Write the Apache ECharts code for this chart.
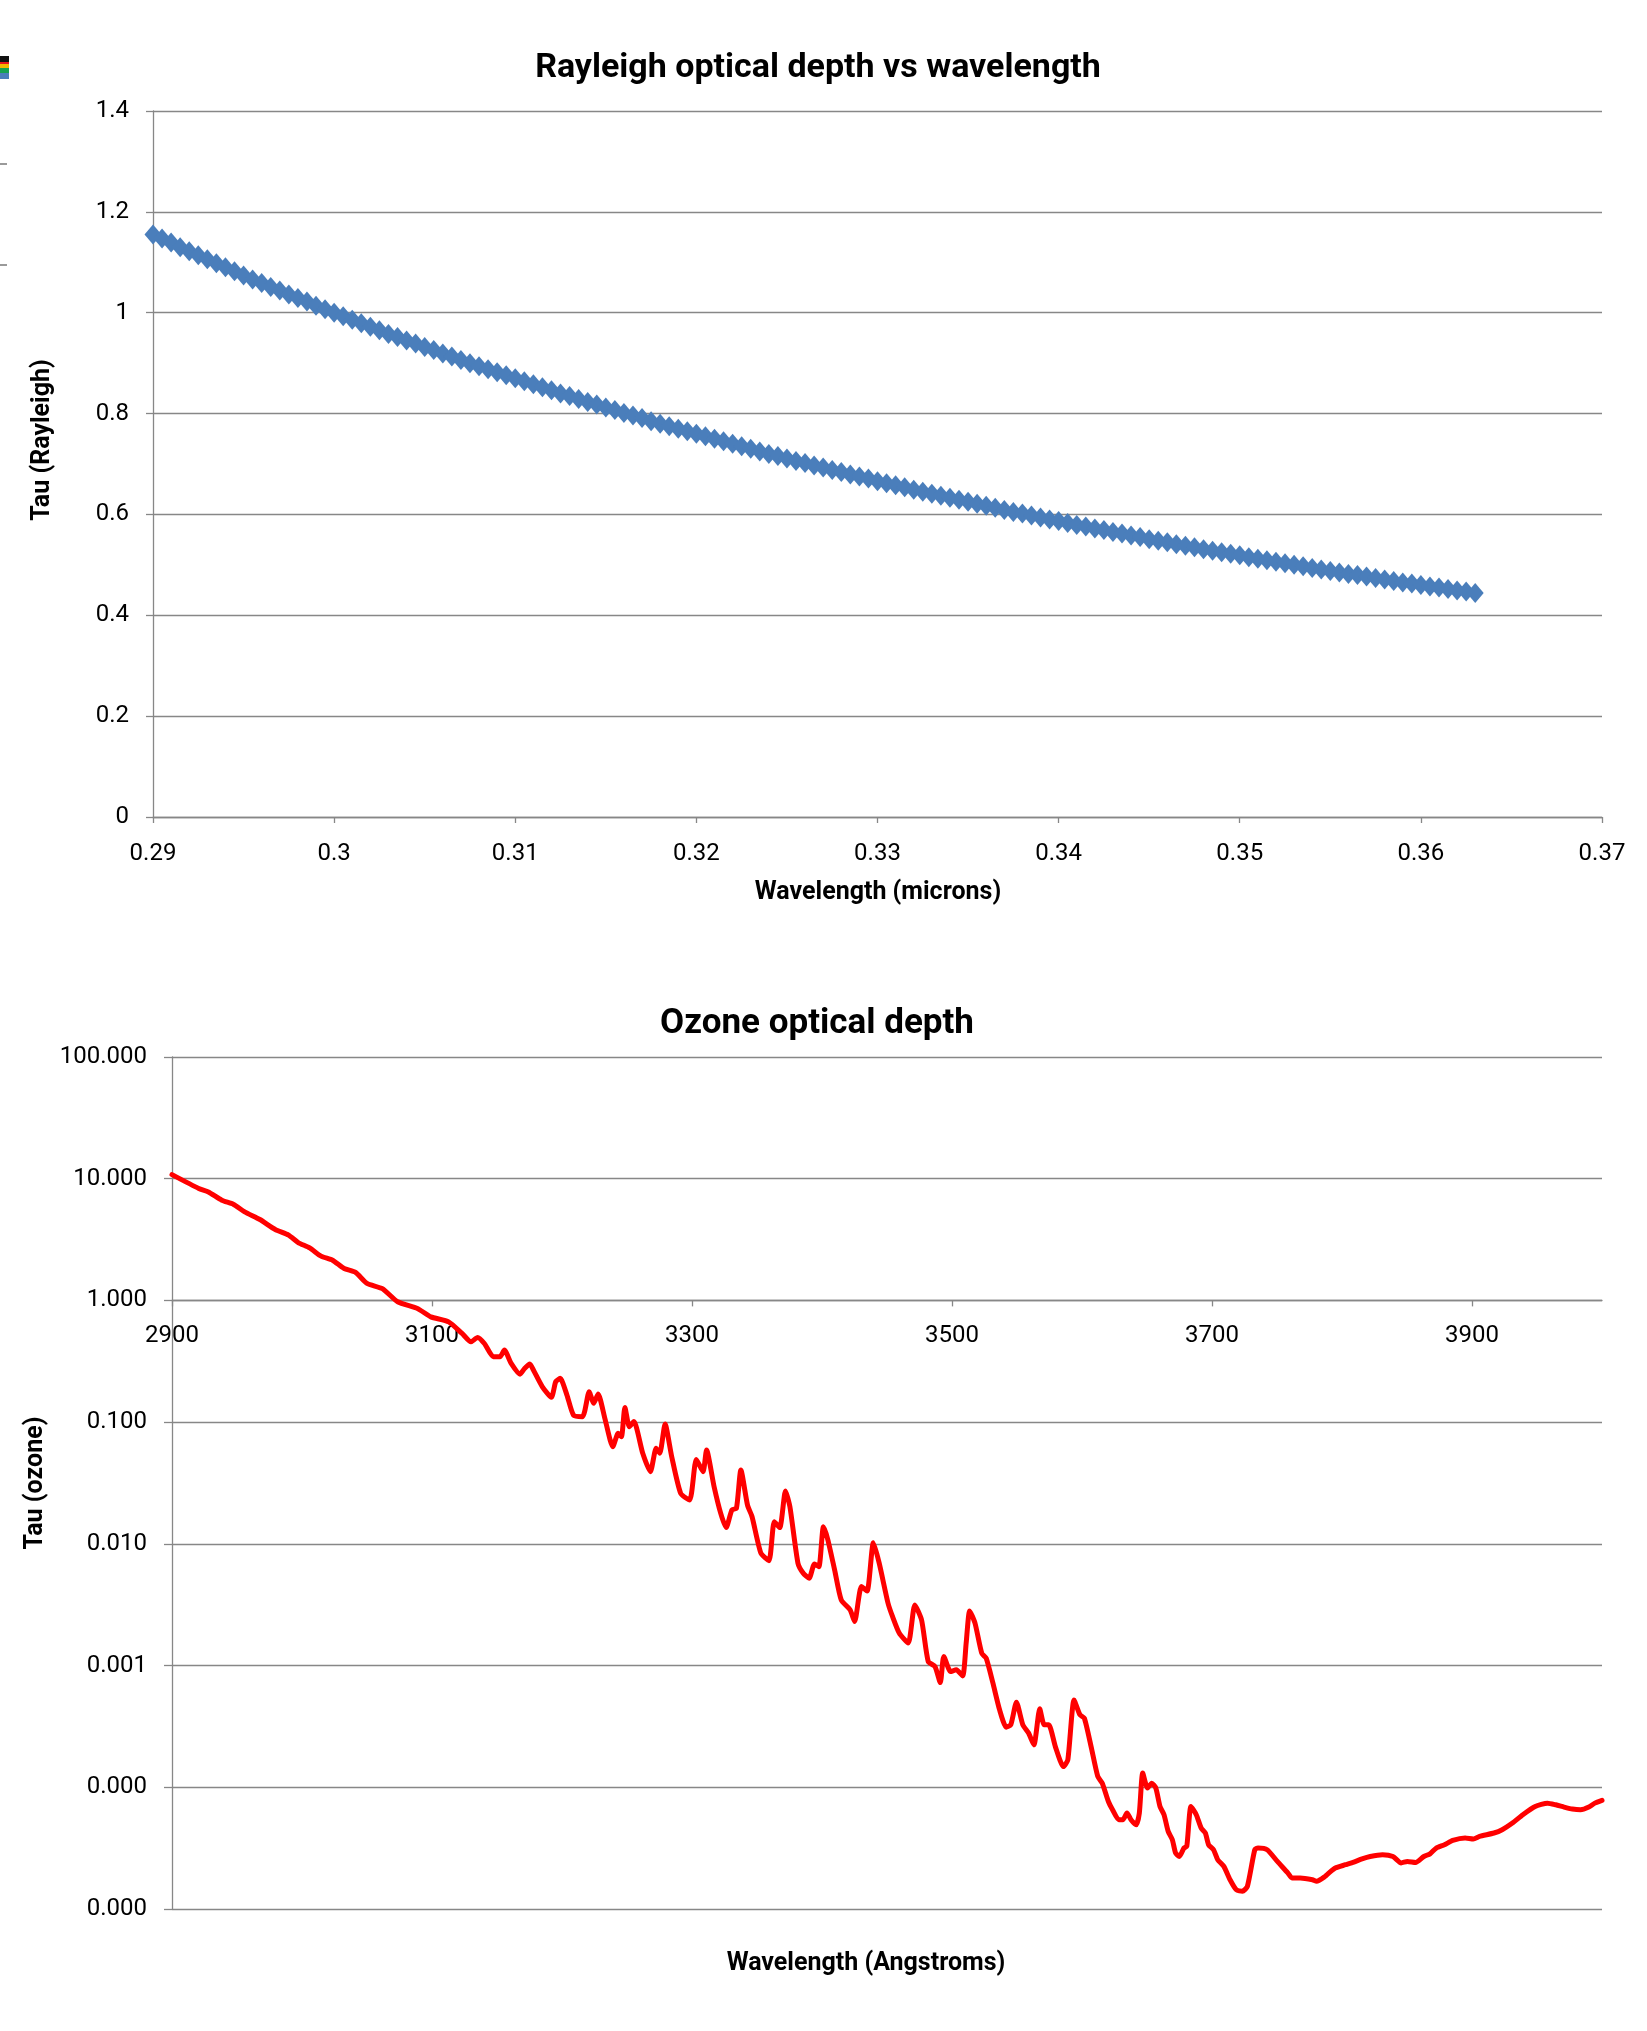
<!DOCTYPE html>
<html><head><meta charset="utf-8">
<script src="https://cdn.jsdelivr.net/npm/echarts@6/dist/echarts.min.js"></script>
<style>html,body{margin:0;padding:0;background:#fff}#c{width:1647px;height:2031px}</style>
</head><body><div id="c"></div><script>
// ---------- Rayleigh optical depth (microns) ----------
const rayWavelength = [
0.2900,0.2905,0.2910,0.2915,0.2920,0.2925,0.2930,0.2935,0.2940,0.2945,
0.2950,0.2955,0.2960,0.2965,0.2970,0.2975,0.2980,0.2985,0.2990,0.2995,
0.3000,0.3005,0.3010,0.3015,0.3020,0.3025,0.3030,0.3035,0.3040,0.3045,
0.3050,0.3055,0.3060,0.3065,0.3070,0.3075,0.3080,0.3085,0.3090,0.3095,
0.3100,0.3105,0.3110,0.3115,0.3120,0.3125,0.3130,0.3135,0.3140,0.3145,
0.3150,0.3155,0.3160,0.3165,0.3170,0.3175,0.3180,0.3185,0.3190,0.3195,
0.3200,0.3205,0.3210,0.3215,0.3220,0.3225,0.3230,0.3235,0.3240,0.3245,
0.3250,0.3255,0.3260,0.3265,0.3270,0.3275,0.3280,0.3285,0.3290,0.3295,
0.3300,0.3305,0.3310,0.3315,0.3320,0.3325,0.3330,0.3335,0.3340,0.3345,
0.3350,0.3355,0.3360,0.3365,0.3370,0.3375,0.3380,0.3385,0.3390,0.3395,
0.3400,0.3405,0.3410,0.3415,0.3420,0.3425,0.3430,0.3435,0.3440,0.3445,
0.3450,0.3455,0.3460,0.3465,0.3470,0.3475,0.3480,0.3485,0.3490,0.3495,
0.3500,0.3505,0.3510,0.3515,0.3520,0.3525,0.3530,0.3535,0.3540,0.3545,
0.3550,0.3555,0.3560,0.3565,0.3570,0.3575,0.3580,0.3585,0.3590,0.3595,
0.3600,0.3605,0.3610,0.3615,0.3620,0.3625,0.3630];
const rayTau = [
1.155,1.147,1.139,1.130,1.122,1.114,1.106,1.098,1.090,1.082,
1.074,1.066,1.059,1.051,1.044,1.036,1.029,1.022,1.014,1.007,
1.000,0.993,0.986,0.979,0.972,0.965,0.958,0.952,0.945,0.939,
0.932,0.926,0.919,0.913,0.906,0.900,0.894,0.888,0.882,0.876,
0.870,0.864,0.858,0.852,0.846,0.840,0.835,0.829,0.823,0.818,
0.812,0.807,0.801,0.796,0.791,0.785,0.780,0.775,0.770,0.765,
0.760,0.755,0.750,0.745,0.740,0.735,0.730,0.725,0.720,0.716,
0.711,0.706,0.702,0.697,0.693,0.688,0.684,0.679,0.675,0.671,
0.666,0.662,0.658,0.654,0.649,0.645,0.641,0.637,0.633,0.629,
0.625,0.621,0.617,0.613,0.609,0.605,0.602,0.598,0.594,0.590,
0.587,0.583,0.579,0.576,0.572,0.569,0.565,0.562,0.558,0.555,
0.551,0.548,0.545,0.541,0.538,0.535,0.531,0.528,0.525,0.522,
0.519,0.515,0.512,0.509,0.506,0.503,0.500,0.497,0.494,0.491,
0.488,0.485,0.482,0.480,0.477,0.474,0.471,0.468,0.465,0.463,
0.460,0.457,0.455,0.452,0.449,0.447,0.444];

// ---------- Ozone optical depth (Angstroms) ----------
const ozoneWavelength = [
2900,2920.6,2928,2938.3,2947.1,2955.9,2967.6,2979.4,2989.7,2997.1,
3005.9,3014.7,3023.5,3032.4,3041.2,3050,3061.8,3073.6,3088.8,3099.1,
3112.8,3123.1,3130,3135.1,3140.3,3147.2,3152.3,3155.7,3160.9,3167.7,
3171.2,3175.3,3178,3184.9,3191.8,3195.2,3198.6,3203.8,3208.9,3215.8,
3220.9,3224.4,3227.8,3233,3239.1,3243.2,3245.7,3248.4,3251.8,3255.3,
3262.1,3268,3272.4,3275.2,3279.3,3284.4,3291.3,3298.2,3303.3,3308.5,
3311.2,3317,3322.1,3326.3,3330.7,3334.2,3337.6,3342.7,3346.2,3353,
3359.2,3363.3,3367.5,3371.9,3375.3,3381.5,3385.6,3390.1,3394.2,3397.6,
3401.1,3404.5,3409.7,3414.8,3421.7,3425.1,3430.3,3434.7,3439.5,3444,
3450.8,3454.3,3459.4,3466.3,3471.4,3476.6,3481.7,3486.9,3491,3493.7,
3498.9,3503.3,3508.2,3510.9,3513.6,3517.7,3522.9,3526.3,3531.5,3536.6,
3541.7,3545.2,3549.6,3554.5,3558.9,3563,3567.5,3570.9,3574.4,3579.5,
3585.7,3589.1,3593.9,3598.4,3601.8,3607,3612.1,3615.6,3620.3,3623.5,
3628.3,3631.4,3634.6,3637.7,3641.6,3644.1,3646.7,3650.4,3653.6,3656.8,
3660,3663.1,3666.3,3669.5,3672,3674.9,3678.4,3680.6,3683.8,3687.9,
3691.7,3694.9,3697.4,3701.2,3704.4,3709.1,3713.9,3718.7,3723.4,3727.2,
3732.9,3735.4,3742.4,3750.3,3758.3,3761.5,3767.8,3777.3,3780.5,3786.9,
3790,3794.8,3802.7,3809.1,3815.4,3821.7,3831.2,3839.2,3845.5,3850.3,
3856.6,3863,3867.7,3872.5,3878.8,3885.2,3894.7,3901,3905.8,3916.9,
3923.2,3931.1,3939.1,3948.6,3958.1,3964.4,3970.8,3977.2,3983.5,3989.9,
3994.5,4000];
const ozoneTau = [
10.8,8.31,7.79,6.66,6.18,5.34,4.62,3.83,3.44,2.99,
2.70,2.31,2.14,1.83,1.70,1.38,1.25,0.975,0.859,0.733,
0.667,0.536,0.457,0.497,0.443,0.345,0.345,0.391,0.304,0.248,
0.276,0.300,0.268,0.195,0.160,0.215,0.229,0.167,0.114,0.111,
0.178,0.143,0.170,0.107,0.0628,0.0809,0.0759,0.132,0.0917,0.101,
0.0555,0.0392,0.0610,0.0555,0.0964,0.0520,0.0260,0.0229,0.0494,0.0392,
0.0590,0.0295,0.0178,0.0136,0.0190,0.0196,0.0405,0.0208,0.0167,0.00838,
0.00728,0.0152,0.0136,0.0272,0.0202,0.00694,0.00574,0.00522,0.00684,0.00650,
0.0138,0.0108,0.00611,0.00346,0.00286,0.00230,0.00446,0.00410,0.0102,0.00694,
0.00325,0.00252,0.00185,0.00153,0.00315,0.00237,0.00108,0.000982,0.000725,0.00119,
0.000893,0.000922,0.000822,0.00153,0.00281,0.00223,0.00126,0.00115,0.000716,0.000433,
0.000312,0.000326,0.000500,0.000326,0.000279,0.000223,0.000441,0.000326,0.000326,0.000216,
0.000148,0.000168,0.000522,0.000394,0.000370,0.000216,0.000123,0.000108,0.0000764,0.0000653,
0.0000541,0.0000541,0.0000614,0.0000541,0.0000492,0.0000614,0.000131,0.0000985,0.000108,0.0000985,
0.0000695,0.0000595,0.0000434,0.0000371,0.0000288,0.0000270,0.0000317,0.0000327,0.0000695,0.0000595,
0.0000462,0.0000421,0.0000337,0.0000307,0.0000254,0.0000224,0.0000174,0.0000144,0.0000140,0.0000153,
0.0000307,0.0000317,0.0000307,0.0000246,0.0000198,0.0000180,0.0000180,0.0000174,0.0000169,0.0000185,
0.0000198,0.0000217,0.0000231,0.0000243,0.0000258,0.0000270,0.0000279,0.0000270,0.0000239,0.0000246,
0.0000241,0.0000270,0.0000284,0.0000317,0.0000337,0.0000366,0.0000383,0.0000376,0.0000395,0.0000421,
0.0000448,0.0000508,0.0000595,0.0000695,0.0000741,0.0000718,0.0000688,0.0000662,0.0000653,0.0000688,
0.0000741,0.0000780];

const ozoneXTicks = [2900,3100,3300,3500,3700,3900];

const titles = {
  ray: 'Rayleigh optical depth vs wavelength',
  rayX: 'Wavelength (microns)',
  rayY: 'Tau (Rayleigh)',
  oz: 'Ozone optical depth',
  ozX: 'Wavelength (Angstroms)',
  ozY: 'Tau (ozone)'
};

const GRID = '#878787';
const FONT = 'Roboto';
const lbl = {fontFamily: FONT, fontSize: 24, color: '#000'};
const line = {lineStyle: {color: GRID, width: 1.3}};

function txt(text, x, y, size, rot) {
  return {type: 'text', x: x, y: y, rotation: rot || 0, z: 10,
    style: {text: text, fill: '#000', font: 'bold ' + size + 'px ' + FONT,
      textAlign: 'center', textVerticalAlign: 'middle', align: 'center', verticalAlign: 'middle'}};
}

const chart = echarts.init(document.getElementById('c'), null, {renderer: 'canvas'});
chart.setOption({
  animation: false,
  backgroundColor: '#fff',
  grid: [
    {left: 153, top: 111, width: 1449, height: 706},
    {left: 172, top: 1057, width: 1430, height: 852}
  ],
  xAxis: [
    {type: 'value', gridIndex: 0, min: 0.29, max: 0.37, interval: 0.01,
     axisLine: Object.assign({show: true, onZero: false}, line),
     axisTick: Object.assign({show: true, length: 6}, line),
     splitLine: {show: false},
     axisLabel: Object.assign({margin: 25, formatter: v => String(+v.toFixed(2))}, lbl)},
    {type: 'value', gridIndex: 1, min: 2900, max: 4000, interval: 100,
     position: 'bottom', offset: -608.6,
     axisLine: Object.assign({show: true, onZero: false}, line),
     axisTick: Object.assign({show: true, length: 6, customValues: ozoneXTicks}, line),
     splitLine: {show: false},
     axisLabel: Object.assign({margin: 24, customValues: ozoneXTicks, formatter: v => String(Math.round(v))}, lbl)}
  ],
  yAxis: [
    {type: 'value', gridIndex: 0, min: 0, max: 1.4, interval: 0.2,
     axisLine: Object.assign({show: true, onZero: false}, line),
     axisTick: Object.assign({show: true, length: 7}, line),
     splitLine: Object.assign({show: true}, line),
     axisLabel: Object.assign({margin: 24, formatter: v => String(+v.toFixed(1))}, lbl)},
    {type: 'log', gridIndex: 1, logBase: 10, min: 0.00001, max: 100, splitNumber: 7,
     axisLine: Object.assign({show: true, onZero: false}, line),
     axisTick: Object.assign({show: true, length: 8}, line),
     splitLine: Object.assign({show: true}, line),
     minorTick: {show: false}, minorSplitLine: {show: false},
     axisLabel: Object.assign({margin: 25, formatter: v => Number(v).toFixed(3)}, lbl)}
  ],
  series: [
    {type: 'scatter', xAxisIndex: 0, yAxisIndex: 0,
     data: rayWavelength.map((w, i) => [w, rayTau[i]]),
     symbol: 'diamond', symbolSize: [17, 20],
     itemStyle: {color: '#4a7ebb', opacity: 1}},
    {type: 'line', xAxisIndex: 1, yAxisIndex: 1,
     data: ozoneWavelength.map((w, i) => [w, ozoneTau[i]]),
     showSymbol: false, smooth: 0.2,
     lineStyle: {color: '#ff0000', width: 5, join: 'round', cap: 'round'}}
  ],
  graphic: [
    txt(titles.ray, 818, 68, 34),
    txt(titles.rayX, 878, 893, 25),
    txt(titles.rayY, 43, 440, 25, Math.PI / 2),
    txt(titles.oz, 817, 1024, 35),
    txt(titles.ozX, 866, 1964, 25),
    txt(titles.ozY, 36, 1483, 25, Math.PI / 2),
    {type: 'rect', shape: {x: 0, y: 56, width: 9, height: 6}, style: {fill: '#111'}},
    {type: 'rect', shape: {x: 0, y: 62, width: 9, height: 2}, style: {fill: '#e8141b'}},
    {type: 'rect', shape: {x: 0, y: 64, width: 9, height: 4}, style: {fill: '#f5b800'}},
    {type: 'rect', shape: {x: 0, y: 68, width: 9, height: 5}, style: {fill: '#17a352'}},
    {type: 'rect', shape: {x: 0, y: 73, width: 9, height: 6}, style: {fill: '#4a7ebb'}},
    {type: 'rect', shape: {x: 0, y: 163, width: 7, height: 2}, style: {fill: '#9a9a9a'}},
    {type: 'rect', shape: {x: 0, y: 264, width: 7, height: 2}, style: {fill: '#9a9a9a'}}
  ]
});
</script></body></html>
